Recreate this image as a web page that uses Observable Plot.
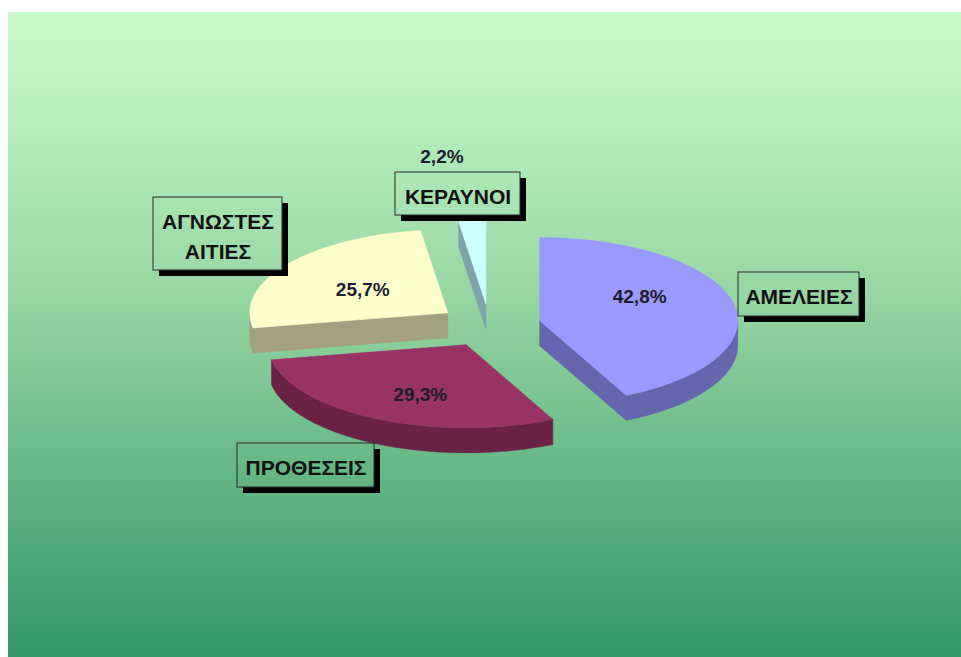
<!DOCTYPE html>
<html>
<head>
<meta charset="utf-8">
<script src="https://cdn.jsdelivr.net/npm/d3@7"></script>
<script src="https://cdn.jsdelivr.net/npm/@observablehq/plot@0.6"></script>
<style>
  html, body { margin: 0; padding: 0; background: #ffffff; }
  #chart { position: absolute; left: 8px; top: 12px; }
</style>
</head>
<body>
<div id="chart"></div>
<script>
// ---- data ----
const categories = ["ΑΜΕΛΕΙΕΣ", "ΠΡΟΘΕΣΕΙΣ", "ΑΓΝΩΣΤΕΣ\nΑΙΤΙΕΣ", "ΚΕΡΑΥΝΟΙ"];
const values = [42.8, 29.3, 25.7, 2.2];
const valueLabels = ["42,8%", "29,3%", "25,7%", "2,2%"];

// ---- styles ----
const topColors = ["#9999ff", "#993366", "#ffffcc", "#ccffff"];
const sideColors = ["#6565ad", "#6a2246", "#a39f80", "#7fa3aa"];

// ---- layout (pixel frame of the page) ----
const W = 953, H = 645, X0 = 8, Y0 = 12;
const pie = {cx: 489, cy: 325, rx: 198, ry: 83, depth: 25, explode: 0.26};
// percent label offsets relative to slice apex (px)
const pctOffset = [[100, -24], [-46, 50], [-85, -23], [-44, -147]];
// category label boxes: center offset from pie center (px) and size
const boxCenter = [[309.5, -31], [-183.5, 140], [-271.5, -91.5], [-31.5, -131.5]];
const boxSize = [[121, 44], [137, 44], [129, 73], [125, 43]];
const shadow = 6;

// ---- geometry ----
const total = d3.sum(values);
let acc = 0;
const slices = values.map((v, i) => {
  const a0 = acc / total * 2 * Math.PI;
  acc += v;
  const a1 = acc / total * 2 * Math.PI;
  const mid = (a0 + a1) / 2;
  const ax = pie.cx + pie.explode * pie.rx * Math.sin(mid);
  const ay = pie.cy - pie.explode * pie.ry * Math.cos(mid);
  return {i, a0, a1, mid, ax, ay};
});
const pt = (s, a, dz = 0) => [s.ax + pie.rx * Math.sin(a), s.ay - pie.ry * Math.cos(a) + dz];
function arc(s, a0, a1, dz = 0) {
  const n = Math.max(2, Math.ceil((a1 - a0) / (Math.PI / 180)));
  return d3.range(n + 1).map(k => pt(s, a0 + (a1 - a0) * k / n, dz));
}

const polys = [];
const order = slices.slice().sort((a, b) => a.ay - b.ay);
for (const s of order) {
  const D = pie.depth;
  const apex = [s.ax, s.ay], apexB = [s.ax, s.ay + D];
  // start cut face (visible when sin(a0) < 0)
  if (Math.sin(s.a0) < -1e-6) {
    const p = pt(s, s.a0), q = pt(s, s.a0, D);
    polys.push({fill: sideColors[s.i], pts: [apex, p, q, apexB, apex]});
  }
  // end cut face (visible when sin(a1) > 0)
  if (Math.sin(s.a1) > 1e-6) {
    const p = pt(s, s.a1), q = pt(s, s.a1, D);
    polys.push({fill: sideColors[s.i], pts: [apex, p, q, apexB, apex]});
  }
  // outer curved side, front half only (90° .. 270°)
  const lo = Math.max(s.a0, Math.PI / 2), hi = Math.min(s.a1, 3 * Math.PI / 2);
  if (hi > lo) {
    const topArc = arc(s, lo, hi), botArc = arc(s, lo, hi, D).reverse();
    polys.push({fill: sideColors[s.i], pts: [...topArc, ...botArc, topArc[0]]});
  }
  // top face
  polys.push({fill: topColors[s.i], pts: [apex, ...arc(s, s.a0, s.a1), apex]});
}

const pctData = slices.map(s => ({
  label: valueLabels[s.i],
  x: s.ax + pctOffset[s.i][0],
  y: s.ay + pctOffset[s.i][1]
}));
const boxes = categories.map((c, i) => {
  const x = pie.cx + boxCenter[i][0], y = pie.cy + boxCenter[i][1];
  const [w, h] = boxSize[i];
  return {label: c, x, y, x1: x - w / 2, x2: x + w / 2, y1: y - h / 2, y2: y + h / 2};
});

const marks = [
  Plot.rect([{}], {x1: X0, x2: X0 + W, y1: Y0, y2: Y0 + H, fill: "url(#bggrad)"}),
  ...polys.map(p => Plot.line(p.pts, {x: d => d[0], y: d => d[1], fill: p.fill, stroke: p.fill, strokeWidth: 0.6, curve: "linear"})),
  Plot.text(pctData, {x: "x", y: "y", text: "label", fontSize: 19, fontWeight: "bold", fill: "#1c1c2e", fontFamily: "Liberation Sans, Arial, sans-serif"}),
  Plot.rect(boxes, {x1: d => d.x1 + shadow, x2: d => d.x2 + shadow, y1: d => d.y1 + shadow, y2: d => d.y2 + shadow, fill: "#000000"}),
  Plot.rect(boxes, {x1: "x1", x2: "x2", y1: "y1", y2: "y2", fill: "url(#bggrad)", stroke: "#2a2a2a", strokeWidth: 1}),
  Plot.text(boxes, {x: "x", y: "y", text: "label", fontSize: 21, fontWeight: "bold", fill: "#111111", lineHeight: 1.45, fontFamily: "Liberation Sans, Arial, sans-serif"})
];

const svg = Plot.plot({
  width: W, height: H,
  marginTop: 0, marginRight: 0, marginBottom: 0, marginLeft: 0,
  x: {type: "linear", domain: [X0, X0 + W], range: [0, W], axis: null},
  y: {type: "linear", domain: [Y0, Y0 + H], range: [0, H], axis: null},
  style: {background: "transparent", overflow: "visible"},
  marks
});

// background gradient definition
const defs = d3.select(svg).insert("defs", ":first-child");
const g = defs.append("linearGradient").attr("id", "bggrad")
  .attr("gradientUnits", "userSpaceOnUse")
  .attr("x1", 0).attr("y1", 0).attr("x2", 0).attr("y2", H);
[[0, "#cafbcb"], [0.12, "#bdf3c3"], [0.45, "#95d5a2"], [0.8, "#55ad7a"], [1, "#329865"]]
  .forEach(([o, c]) => g.append("stop").attr("offset", o).attr("stop-color", c));

document.getElementById("chart").appendChild(svg);
</script>
</body>
</html>
